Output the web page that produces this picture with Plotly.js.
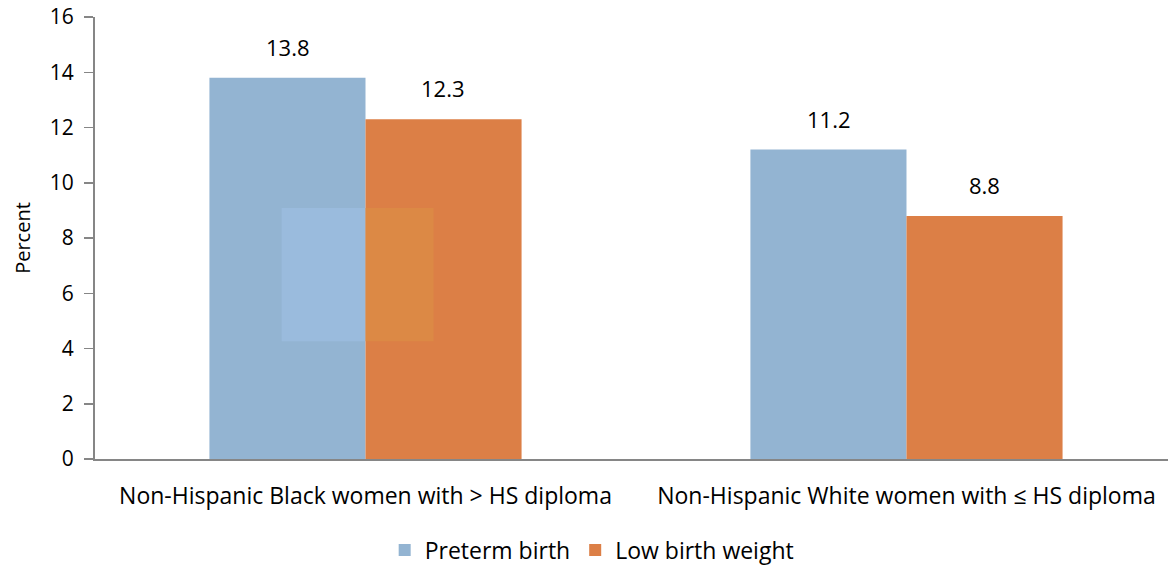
<!DOCTYPE html>
<html>
<head>
<meta charset="utf-8">
<script src="https://cdn.plot.ly/plotly-3.0.1.min.js"></script>
<style>
  html, body { margin: 0; padding: 0; background: #fff; }
  #chart { width: 1168px; height: 567px; }
</style>
</head>
<body>
<div id="chart"></div>
<script>
// Birth outcomes by maternal group
const groups = [
  "Non-Hispanic Black women with > HS diploma",
  "Non-Hispanic White women with \u2264 HS diploma"
];
const pretermBirth = [13.8, 11.2];
const lowBirthWeight = [12.3, 8.8];
const seriesNames = ["Preterm birth", "Low birth weight"];
const yTicks = [0, 2, 4, 6, 8, 10, 12, 14, 16];

const BLUE = "#93B4D2";
const ORANGE = "#DC7F46";
const AXIS = "#868686";
const FONT = "'Open Sans', 'Noto Sans', sans-serif";

const xIdx = groups.map((_, i) => i);
const halfBar = 0.144; // offset of each bar centre from its group centre

const traces = [
  {
    type: "bar", name: seriesNames[0], x: xIdx, y: pretermBirth,
    marker: { color: BLUE }, hoverinfo: "y+name"
  },
  {
    type: "bar", name: seriesNames[1], x: xIdx, y: lowBirthWeight,
    marker: { color: ORANGE }, hoverinfo: "y+name"
  }
];

// value labels above each bar
const annotations = [];
[pretermBirth, lowBirthWeight].forEach((vals, s) => {
  vals.forEach((v, i) => {
    annotations.push({
      x: i + (s === 0 ? -halfBar : halfBar), y: v, xref: "x", yref: "y",
      text: v.toFixed(1), showarrow: false, yanchor: "bottom", yshift: 14,
      font: { family: FONT, size: 22, color: "#000" }
    });
  });
});

const layout = {
  width: 1168, height: 567,
  margin: { l: 95, r: 0, t: 17, b: 107.5 },
  paper_bgcolor: "#fff", plot_bgcolor: "#fff",
  barmode: "group", bargap: 0.423, bargroupgap: 0,
  font: { family: FONT, size: 21, color: "#000" },
  showlegend: true,
  legend: {
    orientation: "h", xref: "container", yref: "container",
    x: 0.507, xanchor: "center", y: 0.030, yanchor: "middle",
    font: { family: FONT, size: 23, color: "#000" }, itemwidth: 30,
    traceorder: "normal"
  },
  xaxis: {
    range: [-0.5, 1.4834], tickvals: xIdx, ticktext: groups,
    showline: true, linecolor: AXIS, linewidth: 2, automargin: false,
    ticks: "", showgrid: false, zeroline: false, ticklabelstandoff: 15,
    tickfont: { family: FONT, size: 23, color: "#000" }, fixedrange: true
  },
  yaxis: {
    range: [0, 16], tickvals: yTicks, automargin: false,
    showline: true, linecolor: AXIS, linewidth: 2,
    ticks: "outside", ticklen: 9, tickwidth: 1.5, tickcolor: AXIS,
    showgrid: false, zeroline: false, ticklabelstandoff: 6,
    tickfont: { family: FONT, size: 21, color: "#000" },
    title: { text: "Percent", font: { family: FONT, size: 20, color: "#000" }, standoff: 14 },
    fixedrange: true
  },
  shapes: [
    { type: "rect", xref: "x", yref: "y", x0: -0.155, x1: 0, y0: 4.26, y1: 9.09,
      fillcolor: "#9ABBDD", line: { width: 0 }, layer: "above" },
    { type: "rect", xref: "x", yref: "y", x0: 0, x1: 0.1257, y0: 4.26, y1: 9.09,
      fillcolor: "#DC8945", line: { width: 0 }, layer: "above" }
  ],
  annotations: annotations
};

Plotly.newPlot("chart", traces, layout, { displayModeBar: false, staticPlot: true });
</script>
</body>
</html>
